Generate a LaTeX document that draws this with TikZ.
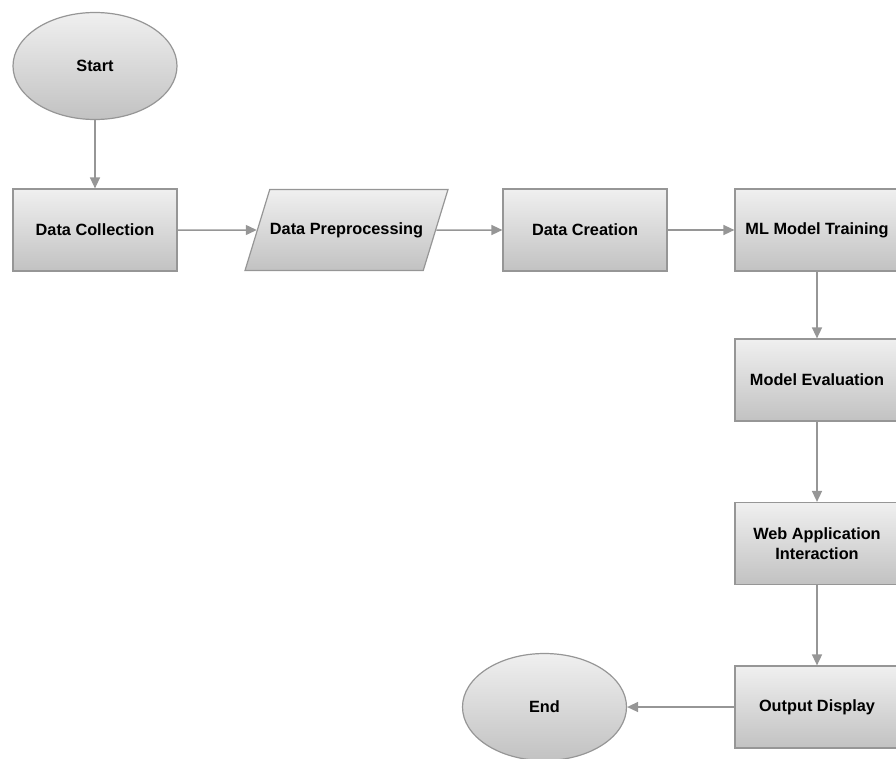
\documentclass[tikz,border=0pt]{standalone}
\usepackage{fontspec}
\setmainfont{Liberation Sans}
\usetikzlibrary{shapes.geometric, arrows.meta}
\definecolor{edgegray}{RGB}{150,150,150}

\begin{document}
\begin{tikzpicture}[x=1pt, y=-1pt,
        every node/.style={font=\fontsize{16.3}{19.5}\selectfont\bfseries, text=black},
        boxnode/.style={draw=edgegray, line width=1.2pt, rectangle, minimum width=164pt, minimum height=82pt, inner sep=0pt, align=center, top color=gray!12, bottom color=gray!48},
        ionode/.style={draw=edgegray, line width=1.2pt, trapezium, trapezium left angle=73, trapezium right angle=107, trapezium stretches body, minimum width=203pt, text height=12pt, text depth=3pt, inner xsep=0pt, inner ysep=33pt, top color=gray!12, bottom color=gray!48},
        termnode/.style={draw=edgegray, line width=1.2pt, ellipse, minimum width=164pt, minimum height=107pt, inner sep=0pt, top color=gray!12, bottom color=gray!48},
        flow/.style={draw=edgegray, line width=1.5pt, -{Triangle[length=11pt, width=10pt]}}]
            \useasboundingbox (0,0) rectangle (896,758);
            \clip (0,0) rectangle (896,758);
            % terminals
            \node[termnode] (start) at (95,66) {Start};
            \node[termnode] (end) at (544.5,707) {End};
            % top row
            \node[boxnode] (collect) at (95,230) {Data Collection};
            \node[ionode] (prep) at (346.5,230) {Data Preprocessing};
            \node[boxnode] (create) at (585,230) {Data Creation};
            \node[boxnode] (train) at (817,230) {ML Model Training};
            % right column
            \node[boxnode] (eval) at (817,380) {Model Evaluation};
            \node[boxnode] (webapp) at (817,543.5) {Web Application\\Interaction};
            \node[boxnode] (output) at (817,707) {Output Display};
            % connectors
            \draw[flow] (start) -- (collect);
            \draw[flow] (collect) -- (prep);
            \draw[flow] (prep) -- (create);
            \draw[flow] (create) -- (train);
            \draw[flow] (train) -- (eval);
            \draw[flow] (eval) -- (webapp);
            \draw[flow] (webapp) -- (output);
            \draw[flow] (output) -- (end);
        \end{tikzpicture}
\end{document}
